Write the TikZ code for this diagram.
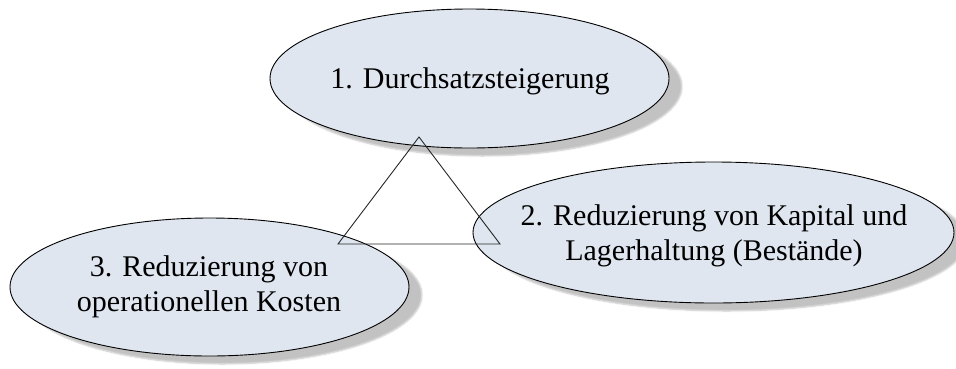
\documentclass[tikz,border=0pt]{standalone}
\usepackage{fontspec}
\setmainfont{Liberation Serif}
\usetikzlibrary{shapes.geometric,shadows.blur}
\definecolor{ovalfill}{RGB}{223,230,240}
\tikzset{
  goal/.style={ellipse, draw=black, line width=0.9pt, fill=ovalfill,
    inner sep=0pt,
    blur shadow={shadow xshift=13pt, shadow yshift=-8pt,
      shadow blur radius=1.5pt, shadow blur steps=5, shadow opacity=24}},
  goaltext/.style={anchor=base, inner sep=0pt, font=\fontsize{30}{35}\selectfont},
  tri/.style={draw=black!85, line width=0.9pt, line join=miter}
}
\begin{document}
\begin{tikzpicture}[x=1pt, y=-1pt]
  \useasboundingbox (0,0) rectangle (956,368);

  % the three goals
  \node[goal, minimum width=399pt, minimum height=139pt] (g1) at (469.5,78.5) {};
  \node[goal, minimum width=481pt, minimum height=141pt] (g2) at (713.5,232.5) {};
  \node[goal, minimum width=399pt, minimum height=138pt] (g3) at (209.5,287) {};

  % goal labels, one node per line
  \node[goaltext] (t1) at (470,88) {1. Durchsatzsteigerung};
  \node[goaltext] (t2a) at (714,225) {2. Reduzierung von Kapital und};
  \node[goaltext] (t2b) at (714,260) {Lagerhaltung (Bestände)};
  \node[goaltext] (t3a) at (209,276) {3. Reduzierung von};
  \node[goaltext] (t3b) at (209,311.5) {operationellen Kosten};

  % triangle linking the goals
  \coordinate (apex) at (419,137);
  \coordinate (bl) at (338,244);
  \coordinate (br) at (500,244);
  \draw[tri] (apex) -- (br) -- (bl) -- cycle;
\end{tikzpicture}
\end{document}
